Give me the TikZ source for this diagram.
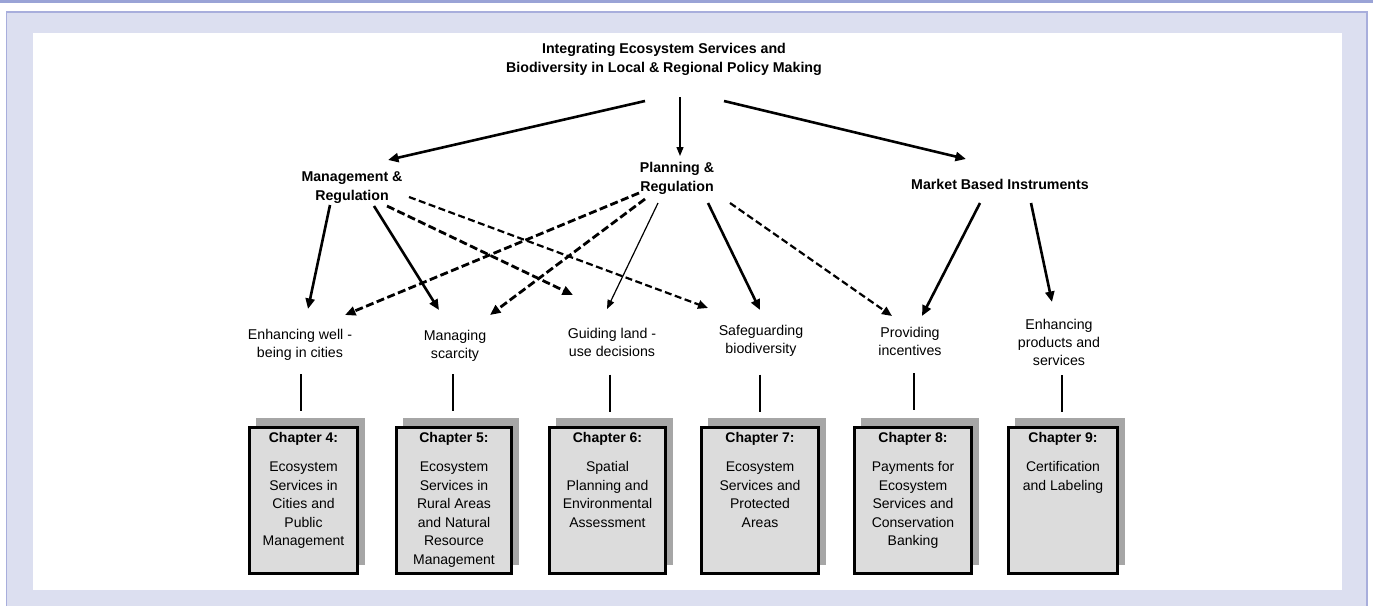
\documentclass[tikz,border=0pt]{standalone}
\usepackage{fontspec}
\setmainfont{Liberation Sans}
\usetikzlibrary{arrows.meta,shadows}

\definecolor{topbar}{HTML}{9AA3D6}
\definecolor{lav}{HTML}{DCDFF0}
\definecolor{lavline}{HTML}{A8AEDC}
\definecolor{boxgray}{HTML}{DCDCDC}
\definecolor{shadowgray}{HTML}{A6A6A6}

\tikzset{
  every node/.style={inner sep=0pt, outer sep=0pt},
  head/.style={font=\fontsize{14.2}{19}\selectfont\bfseries, align=center},
  lbl/.style={font=\fontsize{14.2}{18}\selectfont, align=center},
  arr/.style={-{Triangle[length=10.5pt,width=9pt]}, line width=2.6pt},
  thinarr/.style={-{Triangle[length=9pt,width=7pt]}, line width=1.2pt},
  darr/.style={-{Triangle[length=10.5pt,width=9pt]}, line width=2.8pt, dash pattern=on 8pt off 3.5pt},
  ldarr/.style={-{Triangle[length=10pt,width=8.5pt]}, line width=2.2pt, dash pattern=on 7pt off 3.5pt},
  chbox/.style={draw=black, line width=2.6pt, fill=boxgray, minimum width=#1, minimum height=146.5pt,
    general shadow={fill=shadowgray, shadow xshift=7pt, shadow yshift=9pt}},
  chtext/.style={font=\fontsize{14}{18.5}\selectfont, align=center, anchor=north},
  tick/.style={line width=1.4pt},
  bigtick/.style={line width=2.6pt}
}

\begin{document}
\begin{tikzpicture}[x=1pt,y=-1pt]
\useasboundingbox (0,0) rectangle (1373,606);
% frame
\fill[white] (0,0) rectangle (1373,606);
\fill[topbar] (0,0) rectangle (1373,3);
\fill[lav] (6.5,12) rectangle (1367,606);
\draw[lavline, line width=1.2pt] (6.5,606) -- (6.5,12) -- (1367,12) -- (1367,606);
\fill[white] (33,33) rectangle (1342,590);

% top levels
\node[head] (title) at (664,59.5) {Integrating Ecosystem Services and\\Biodiversity in Local \& Regional Policy Making};
\node[head] (mr) at (352,187.5) {Management \&\\Regulation};
\node[head] (pr) at (677,178.5) {Planning \&\\Regulation};
\node[head] (mbi) at (1000,184) {Market Based Instruments};

% goals
\node[lbl] (ew) at (300,345) {Enhancing well -\\being in cities};
\node[lbl] (ms) at (455,346) {Managing\\scarcity};
\node[lbl] (gl) at (612,342.5) {Guiding land -\\use decisions};
\node[lbl] (sb) at (761,340.5) {Safeguarding\\biodiversity};
\node[lbl] (pi) at (910,341) {Providing\\incentives};
\node[lbl] (ep) at (1059,342) {Enhancing\\products and\\services};

% chapters
\node[chbox=108.5pt] (ch4) at (303.5,500.5) {};
\node[chbox=115.5pt] (ch5) at (454,500.5) {};
\node[chbox=116.5pt] (ch6) at (607.5,500.5) {};
\node[chbox=117.5pt] (ch7) at (760,500.5) {};
\node[chbox=117.5pt] (ch8) at (913,500.5) {};
\node[chbox=109.5pt] (ch9) at (1063,500.5) {};

\node[chtext] (ch4t) at ([shift={(0,5.5)}]ch4.north) {\textbf{Chapter 4:}\\[10.5pt]Ecosystem\\Services in\\Cities and\\Public\\Management};
\node[chtext] (ch5t) at ([shift={(0,5.5)}]ch5.north) {\textbf{Chapter 5:}\\[10.5pt]Ecosystem\\Services in\\Rural Areas\\and Natural\\Resource\\Management};
\node[chtext] (ch6t) at ([shift={(0,5.5)}]ch6.north) {\textbf{Chapter 6:}\\[10.5pt]Spatial\\Planning and\\Environmental\\Assessment};
\node[chtext] (ch7t) at ([shift={(0,5.5)}]ch7.north) {\textbf{Chapter 7:}\\[10.5pt]Ecosystem\\Services and\\Protected\\Areas};
\node[chtext] (ch8t) at ([shift={(0,5.5)}]ch8.north) {\textbf{Chapter 8:}\\[10.5pt]Payments for\\Ecosystem\\Services and\\Conservation\\Banking};
\node[chtext] (ch9t) at ([shift={(0,5.5)}]ch9.north) {\textbf{Chapter 9:}\\[10.5pt]Certification\\and Labeling};

% title arrows
\draw[arr] ([shift={(-19,41.5)}]title.center) -- ([shift={(36,-27.5)}]mr.center);
\draw[thinarr] ([shift={(16,37.5)}]title.center) -- ([shift={(3,-22.5)}]pr.center);
\draw[arr] ([shift={(60,41.5)}]title.center) -- ([shift={(-34,-25)}]mbi.center);

% management & regulation
\draw[arr] ([shift={(-22,17.5)}]mr.center) -- ([shift={(8,-36)}]ew.center);
\draw[arr] ([shift={(22,18.5)}]mr.center) -- ([shift={(-16,-36)}]ms.center);
\draw[darr] ([shift={(35,18.5)}]mr.center) -- ([shift={(-39,-47.5)}]gl.center);
\draw[ldarr] ([shift={(57,9.5)}]mr.center) -- ([shift={(-53,-32.5)}]sb.center);

% planning & regulation
\draw[darr] ([shift={(-38,14.5)}]pr.center) -- ([shift={(45,-30)}]ew.center);
\draw[darr] ([shift={(-32,20.5)}]pr.center) -- ([shift={(35,-31)}]ms.center);
\draw[thinarr] ([shift={(-19,24.5)}]pr.center) -- ([shift={(-5,-33.5)}]gl.center);
\draw[arr] ([shift={(31,24.5)}]pr.center) -- ([shift={(-1,-30.5)}]sb.center);
\draw[ldarr] ([shift={(53,24.5)}]pr.center) -- ([shift={(-18,-25)}]pi.center);

% market based instruments
\draw[arr] ([shift={(-20,19)}]mbi.center) -- ([shift={(12,-25)}]pi.center);
\draw[arr] ([shift={(31,19)}]mbi.center) -- ([shift={(-7,-40)}]ep.center);

% goal to chapter ticks
\draw[tick] ([shift={(1,29)}]ew.center) -- ([shift={(-2.5,-16.25)}]ch4.north);
\draw[tick] ([shift={(-2,28)}]ms.center) -- ([shift={(-1,-16.25)}]ch5.north);
\draw[tick] ([shift={(-2,32)}]gl.center) -- ([shift={(2.5,-15.25)}]ch6.north);
\draw[tick] ([shift={(-1,34)}]sb.center) -- ([shift={(0,-15.25)}]ch7.north);
\draw[tick] ([shift={(4,32)}]pi.center) -- ([shift={(1,-17.25)}]ch8.north);
\draw[bigtick] ([shift={(3,33)}]ep.center) -- ([shift={(-1,-15.25)}]ch9.north);
\end{tikzpicture}
\end{document}
